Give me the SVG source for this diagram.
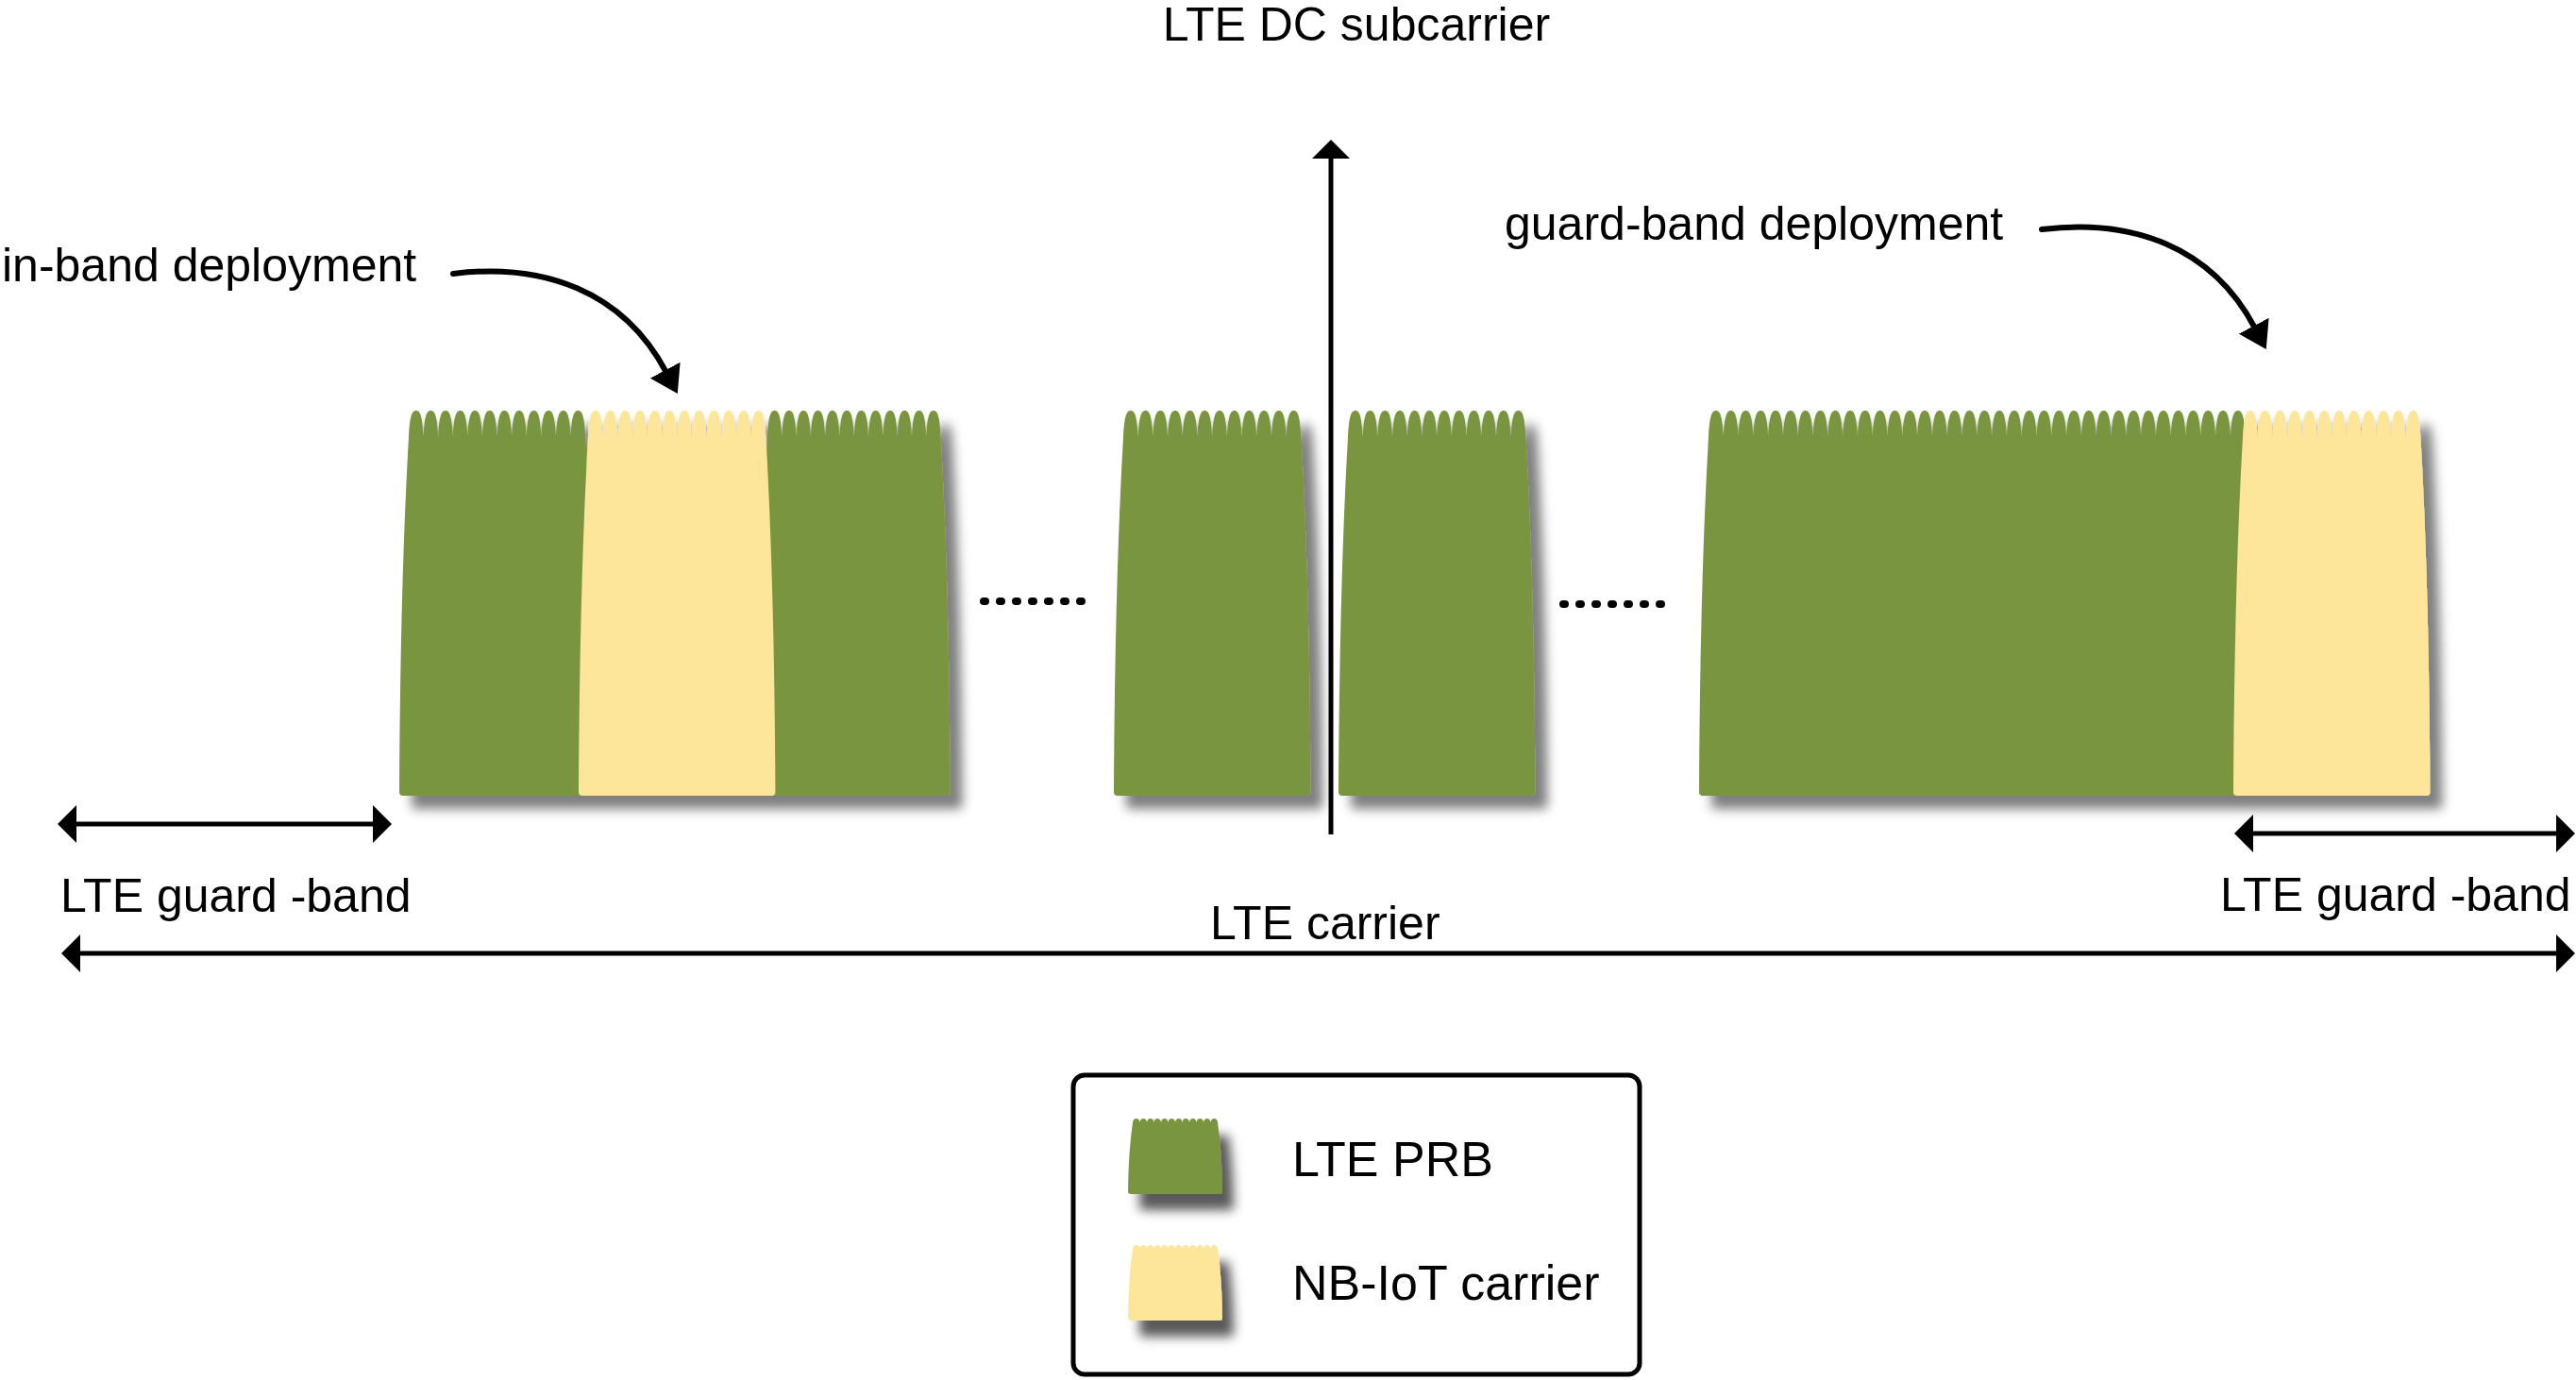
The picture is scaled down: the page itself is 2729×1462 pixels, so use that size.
<svg xmlns="http://www.w3.org/2000/svg" width="2729" height="1462" viewBox="0 0 2729 1462">
<style>
.lte{fill:#7A9540}
.nb{fill:#FDE599}
.lbl{font-family:"Liberation Sans",Arial,sans-serif;font-size:50px;fill:#000}
.leg{font-family:"Liberation Sans",Arial,sans-serif;font-size:52px;fill:#000}
.ln{stroke:#000;stroke-width:5;fill:none}
.cv{stroke:#000;stroke-width:6;fill:none;stroke-linecap:round}
.dots{stroke:#000;stroke-width:8;stroke-linecap:round;stroke-dasharray:2 15;fill:none}
</style>
<defs>
<filter id="sh" x="-10%" y="-10%" width="130%" height="140%">
<feDropShadow dx="13" dy="14" stdDeviation="6" flood-color="#000" flood-opacity="0.5"/>
</filter>
<filter id="sh2" x="-20%" y="-20%" width="160%" height="160%">
<feDropShadow dx="12" dy="17" stdDeviation="6" flood-color="#000" flood-opacity="0.65"/>
</filter>
<marker id="ah" markerUnits="userSpaceOnUse" markerWidth="20" markerHeight="40" viewBox="0 0 20 40" refX="1" refY="20" orient="auto-start-reverse">
<path d="M0,0 L20,20 L0,40 Z" fill="#000"/>
</marker>
<marker id="ch" markerUnits="userSpaceOnUse" markerWidth="28" markerHeight="36" viewBox="0 0 28 36" refX="2" refY="18" orient="auto">
<path d="M0,0 L28,18 L0,36 Z" fill="#000"/>
</marker>
<path id="swatch" d="M1195,1262 Q1195.5,1220 1200,1189 c0.5,-3 1.75,-4 3.75,-4 c2,0 3.25,1 3.75,4 c0.5,-3 1.75,-4 3.75,-4 c2,0 3.25,1 3.75,4 c0.5,-3 1.75,-4 3.75,-4 c2,0 3.25,1 3.75,4 c0.5,-3 1.75,-4 3.75,-4 c2,0 3.25,1 3.75,4 c0.5,-3 1.75,-4 3.75,-4 c2,0 3.25,1 3.75,4 c0.5,-3 1.75,-4 3.75,-4 c2,0 3.25,1 3.75,4 c0.5,-3 1.75,-4 3.75,-4 c2,0 3.25,1 3.75,4 c0.5,-3 1.75,-4 3.75,-4 c2,0 3.25,1 3.75,4 c0.5,-3 1.75,-4 3.75,-4 c2,0 3.25,1 3.75,4 c0.5,-3 1.75,-4 3.75,-4 c2,0 3.25,1 3.75,4 c0.5,-3 1.75,-4 3.75,-4 c2,0 3.25,1 3.75,4 c0.5,-3 1.75,-4 3.75,-4 c2,0 3.25,1 3.75,4 Q1294.5,1220 1295,1262 Q1295,1265 1292,1265 L1198,1265 Q1195,1265 1195,1262 Z"/>
</defs>
<rect width="2729" height="1462" fill="#fff"/>

<g id="inband-block" filter="url(#sh)">
<path class="lte" d="M423,839 Q424,620 433,463 c1,-20 2.8,-28 7.8,-28 c5,0 6.8,8 7.8,28 c1,-20 2.8,-28 7.8,-28 c5,0 6.8,8 7.8,28 c1,-20 2.8,-28 7.8,-28 c5,0 6.8,8 7.8,28 c1,-20 2.8,-28 7.8,-28 c5,0 6.8,8 7.8,28 c1,-20 2.8,-28 7.8,-28 c5,0 6.8,8 7.8,28 c1,-20 2.8,-28 7.8,-28 c5,0 6.8,8 7.8,28 c1,-20 2.8,-28 7.8,-28 c5,0 6.8,8 7.8,28 c1,-20 2.8,-28 7.8,-28 c5,0 6.8,8 7.8,28 c1,-20 2.8,-28 7.8,-28 c5,0 6.8,8 7.8,28 c1,-20 2.8,-28 7.8,-28 c5,0 6.8,8 7.8,28 c1,-20 2.8,-28 7.8,-28 c5,0 6.8,8 7.8,28 c1,-20 2.8,-28 7.8,-28 c5,0 6.8,8 7.8,28 Q629.2,620 630.2,839 Q630.2,843 626.2,843 L427,843 Q423,843 423,839 Z"/>
<path class="lte" d="M803,839 Q804,620 813,463 c1,-20 2.65,-28 7.65,-28 c5,0 6.65,8 7.65,28 c1,-20 2.65,-28 7.65,-28 c5,0 6.65,8 7.65,28 c1,-20 2.65,-28 7.65,-28 c5,0 6.65,8 7.65,28 c1,-20 2.65,-28 7.65,-28 c5,0 6.65,8 7.65,28 c1,-20 2.65,-28 7.65,-28 c5,0 6.65,8 7.65,28 c1,-20 2.65,-28 7.65,-28 c5,0 6.65,8 7.65,28 c1,-20 2.65,-28 7.65,-28 c5,0 6.65,8 7.65,28 c1,-20 2.65,-28 7.65,-28 c5,0 6.65,8 7.65,28 c1,-20 2.65,-28 7.65,-28 c5,0 6.65,8 7.65,28 c1,-20 2.65,-28 7.65,-28 c5,0 6.65,8 7.65,28 c1,-20 2.65,-28 7.65,-28 c5,0 6.65,8 7.65,28 c1,-20 2.65,-28 7.65,-28 c5,0 6.65,8 7.65,28 Q1005.6,620 1006.6,839 Q1006.6,843 1002.6,843 L807,843 Q803,843 803,839 Z"/>
<path class="nb" d="M613,839 Q614,620 623,463 c1,-20 2.85,-28 7.85,-28 c5,0 6.85,8 7.85,28 c1,-20 2.85,-28 7.85,-28 c5,0 6.85,8 7.85,28 c1,-20 2.85,-28 7.85,-28 c5,0 6.85,8 7.85,28 c1,-20 2.85,-28 7.85,-28 c5,0 6.85,8 7.85,28 c1,-20 2.85,-28 7.85,-28 c5,0 6.85,8 7.85,28 c1,-20 2.85,-28 7.85,-28 c5,0 6.85,8 7.85,28 c1,-20 2.85,-28 7.85,-28 c5,0 6.85,8 7.85,28 c1,-20 2.85,-28 7.85,-28 c5,0 6.85,8 7.85,28 c1,-20 2.85,-28 7.85,-28 c5,0 6.85,8 7.85,28 c1,-20 2.85,-28 7.85,-28 c5,0 6.85,8 7.85,28 c1,-20 2.85,-28 7.85,-28 c5,0 6.85,8 7.85,28 c1,-20 2.85,-28 7.85,-28 c5,0 6.85,8 7.85,28 Q820.4,620 821.4,839 Q821.4,843 817.4,843 L617,843 Q613,843 613,839 Z"/>
</g>

<g id="dc-left-prb" filter="url(#sh)">
<path class="lte" d="M1180,839 Q1181,620 1190,463 c1,-20 2.85,-28 7.85,-28 c5,0 6.85,8 7.85,28 c1,-20 2.85,-28 7.85,-28 c5,0 6.85,8 7.85,28 c1,-20 2.85,-28 7.85,-28 c5,0 6.85,8 7.85,28 c1,-20 2.85,-28 7.85,-28 c5,0 6.85,8 7.85,28 c1,-20 2.85,-28 7.85,-28 c5,0 6.85,8 7.85,28 c1,-20 2.85,-28 7.85,-28 c5,0 6.85,8 7.85,28 c1,-20 2.85,-28 7.85,-28 c5,0 6.85,8 7.85,28 c1,-20 2.85,-28 7.85,-28 c5,0 6.85,8 7.85,28 c1,-20 2.85,-28 7.85,-28 c5,0 6.85,8 7.85,28 c1,-20 2.85,-28 7.85,-28 c5,0 6.85,8 7.85,28 c1,-20 2.85,-28 7.85,-28 c5,0 6.85,8 7.85,28 c1,-20 2.85,-28 7.85,-28 c5,0 6.85,8 7.85,28 Q1387.4,620 1388.4,839 Q1388.4,843 1384.4,843 L1184,843 Q1180,843 1180,839 Z"/>
</g>

<g id="dc-right-prb" filter="url(#sh)">
<path class="lte" d="M1418,839 Q1419,620 1428,463 c1,-20 2.85,-28 7.85,-28 c5,0 6.85,8 7.85,28 c1,-20 2.85,-28 7.85,-28 c5,0 6.85,8 7.85,28 c1,-20 2.85,-28 7.85,-28 c5,0 6.85,8 7.85,28 c1,-20 2.85,-28 7.85,-28 c5,0 6.85,8 7.85,28 c1,-20 2.85,-28 7.85,-28 c5,0 6.85,8 7.85,28 c1,-20 2.85,-28 7.85,-28 c5,0 6.85,8 7.85,28 c1,-20 2.85,-28 7.85,-28 c5,0 6.85,8 7.85,28 c1,-20 2.85,-28 7.85,-28 c5,0 6.85,8 7.85,28 c1,-20 2.85,-28 7.85,-28 c5,0 6.85,8 7.85,28 c1,-20 2.85,-28 7.85,-28 c5,0 6.85,8 7.85,28 c1,-20 2.85,-28 7.85,-28 c5,0 6.85,8 7.85,28 c1,-20 2.85,-28 7.85,-28 c5,0 6.85,8 7.85,28 Q1625.4,620 1626.4,839 Q1626.4,843 1622.4,843 L1422,843 Q1418,843 1418,839 Z"/>
</g>

<g id="guardband-block" filter="url(#sh)">
<path class="lte" d="M1800,839 Q1801,620 1810,463 c1,-20 2.9,-28 7.9,-28 c5,0 6.9,8 7.9,28 c1,-20 2.9,-28 7.9,-28 c5,0 6.9,8 7.9,28 c1,-20 2.9,-28 7.9,-28 c5,0 6.9,8 7.9,28 c1,-20 2.9,-28 7.9,-28 c5,0 6.9,8 7.9,28 c1,-20 2.9,-28 7.9,-28 c5,0 6.9,8 7.9,28 c1,-20 2.9,-28 7.9,-28 c5,0 6.9,8 7.9,28 c1,-20 2.9,-28 7.9,-28 c5,0 6.9,8 7.9,28 c1,-20 2.9,-28 7.9,-28 c5,0 6.9,8 7.9,28 c1,-20 2.9,-28 7.9,-28 c5,0 6.9,8 7.9,28 c1,-20 2.9,-28 7.9,-28 c5,0 6.9,8 7.9,28 c1,-20 2.9,-28 7.9,-28 c5,0 6.9,8 7.9,28 c1,-20 2.9,-28 7.9,-28 c5,0 6.9,8 7.9,28 c1,-20 2.9,-28 7.9,-28 c5,0 6.9,8 7.9,28 c1,-20 2.9,-28 7.9,-28 c5,0 6.9,8 7.9,28 c1,-20 2.9,-28 7.9,-28 c5,0 6.9,8 7.9,28 c1,-20 2.9,-28 7.9,-28 c5,0 6.9,8 7.9,28 c1,-20 2.9,-28 7.9,-28 c5,0 6.9,8 7.9,28 c1,-20 2.9,-28 7.9,-28 c5,0 6.9,8 7.9,28 c1,-20 2.9,-28 7.9,-28 c5,0 6.9,8 7.9,28 c1,-20 2.9,-28 7.9,-28 c5,0 6.9,8 7.9,28 c1,-20 2.9,-28 7.9,-28 c5,0 6.9,8 7.9,28 c1,-20 2.9,-28 7.9,-28 c5,0 6.9,8 7.9,28 c1,-20 2.9,-28 7.9,-28 c5,0 6.9,8 7.9,28 c1,-20 2.9,-28 7.9,-28 c5,0 6.9,8 7.9,28 c1,-20 2.9,-28 7.9,-28 c5,0 6.9,8 7.9,28 c1,-20 2.9,-28 7.9,-28 c5,0 6.9,8 7.9,28 c1,-20 2.9,-28 7.9,-28 c5,0 6.9,8 7.9,28 c1,-20 2.9,-28 7.9,-28 c5,0 6.9,8 7.9,28 c1,-20 2.9,-28 7.9,-28 c5,0 6.9,8 7.9,28 c1,-20 2.9,-28 7.9,-28 c5,0 6.9,8 7.9,28 c1,-20 2.9,-28 7.9,-28 c5,0 6.9,8 7.9,28 c1,-20 2.9,-28 7.9,-28 c5,0 6.9,8 7.9,28 c1,-20 2.9,-28 7.9,-28 c5,0 6.9,8 7.9,28 c1,-20 2.9,-28 7.9,-28 c5,0 6.9,8 7.9,28 c1,-20 2.9,-28 7.9,-28 c5,0 6.9,8 7.9,28 c1,-20 2.9,-28 7.9,-28 c5,0 6.9,8 7.9,28 Q2387.8,620 2388.8,839 Q2388.8,843 2384.8,843 L1804,843 Q1800,843 1800,839 Z"/>
<path class="nb" d="M2366,839 Q2367,620 2376,463 c1,-20 2.85,-28 7.85,-28 c5,0 6.85,8 7.85,28 c1,-20 2.85,-28 7.85,-28 c5,0 6.85,8 7.85,28 c1,-20 2.85,-28 7.85,-28 c5,0 6.85,8 7.85,28 c1,-20 2.85,-28 7.85,-28 c5,0 6.85,8 7.85,28 c1,-20 2.85,-28 7.85,-28 c5,0 6.85,8 7.85,28 c1,-20 2.85,-28 7.85,-28 c5,0 6.85,8 7.85,28 c1,-20 2.85,-28 7.85,-28 c5,0 6.85,8 7.85,28 c1,-20 2.85,-28 7.85,-28 c5,0 6.85,8 7.85,28 c1,-20 2.85,-28 7.85,-28 c5,0 6.85,8 7.85,28 c1,-20 2.85,-28 7.85,-28 c5,0 6.85,8 7.85,28 c1,-20 2.85,-28 7.85,-28 c5,0 6.85,8 7.85,28 c1,-20 2.85,-28 7.85,-28 c5,0 6.85,8 7.85,28 Q2573.4,620 2574.4,839 Q2574.4,843 2570.4,843 L2370,843 Q2366,843 2366,839 Z"/>
</g>

<g id="ellipses">
<line class="dots" x1="1042" y1="637" x2="1146" y2="637"/>
<line class="dots" x1="1656" y1="640" x2="1760" y2="640"/>
</g>

<g id="connectors">
<line class="ln" x1="1410" y1="884" x2="1410" y2="167" marker-end="url(#ah)"/>
<line class="ln" x1="80" y1="873" x2="396" y2="873" marker-start="url(#ah)" marker-end="url(#ah)"/>
<line class="ln" x1="2386" y1="883" x2="2709" y2="883" marker-start="url(#ah)" marker-end="url(#ah)"/>
<line class="ln" x1="84" y1="1010" x2="2709" y2="1010" marker-start="url(#ah)" marker-end="url(#ah)"/>
<path class="cv" d="M480,290 C575,278 660,308 705.6,394" marker-end="url(#ch)"/>
<path class="cv" d="M2163,243 C2258,231 2343,261 2388.6,347" marker-end="url(#ch)"/>
</g>

<g id="labels">
<text class="lbl" x="1437" y="43" text-anchor="middle">LTE DC subcarrier</text>
<text class="lbl" x="2" y="298">in-band deployment</text>
<text class="lbl" x="1594" y="254">guard-band deployment</text>
<text class="lbl" x="64" y="966" font-size="49">LTE guard -band</text>
<text class="lbl" x="2352" y="965" font-size="49">LTE guard -band</text>
<text class="lbl" x="1282" y="995">LTE carrier</text>
</g>

<g id="legend">
<rect x="1137" y="1139" width="600" height="317" rx="12" fill="#fff" stroke="#000" stroke-width="5"/>
<g id="legend-lte" filter="url(#sh2)"><use href="#swatch" class="lte"/></g>
<g id="legend-nb" filter="url(#sh2)"><use href="#swatch" class="nb" transform="translate(0,134)"/></g>
<text class="leg" x="1369" y="1246">LTE PRB</text>
<text class="leg" x="1369" y="1377">NB-IoT  carrier</text>
</g>
</svg>
